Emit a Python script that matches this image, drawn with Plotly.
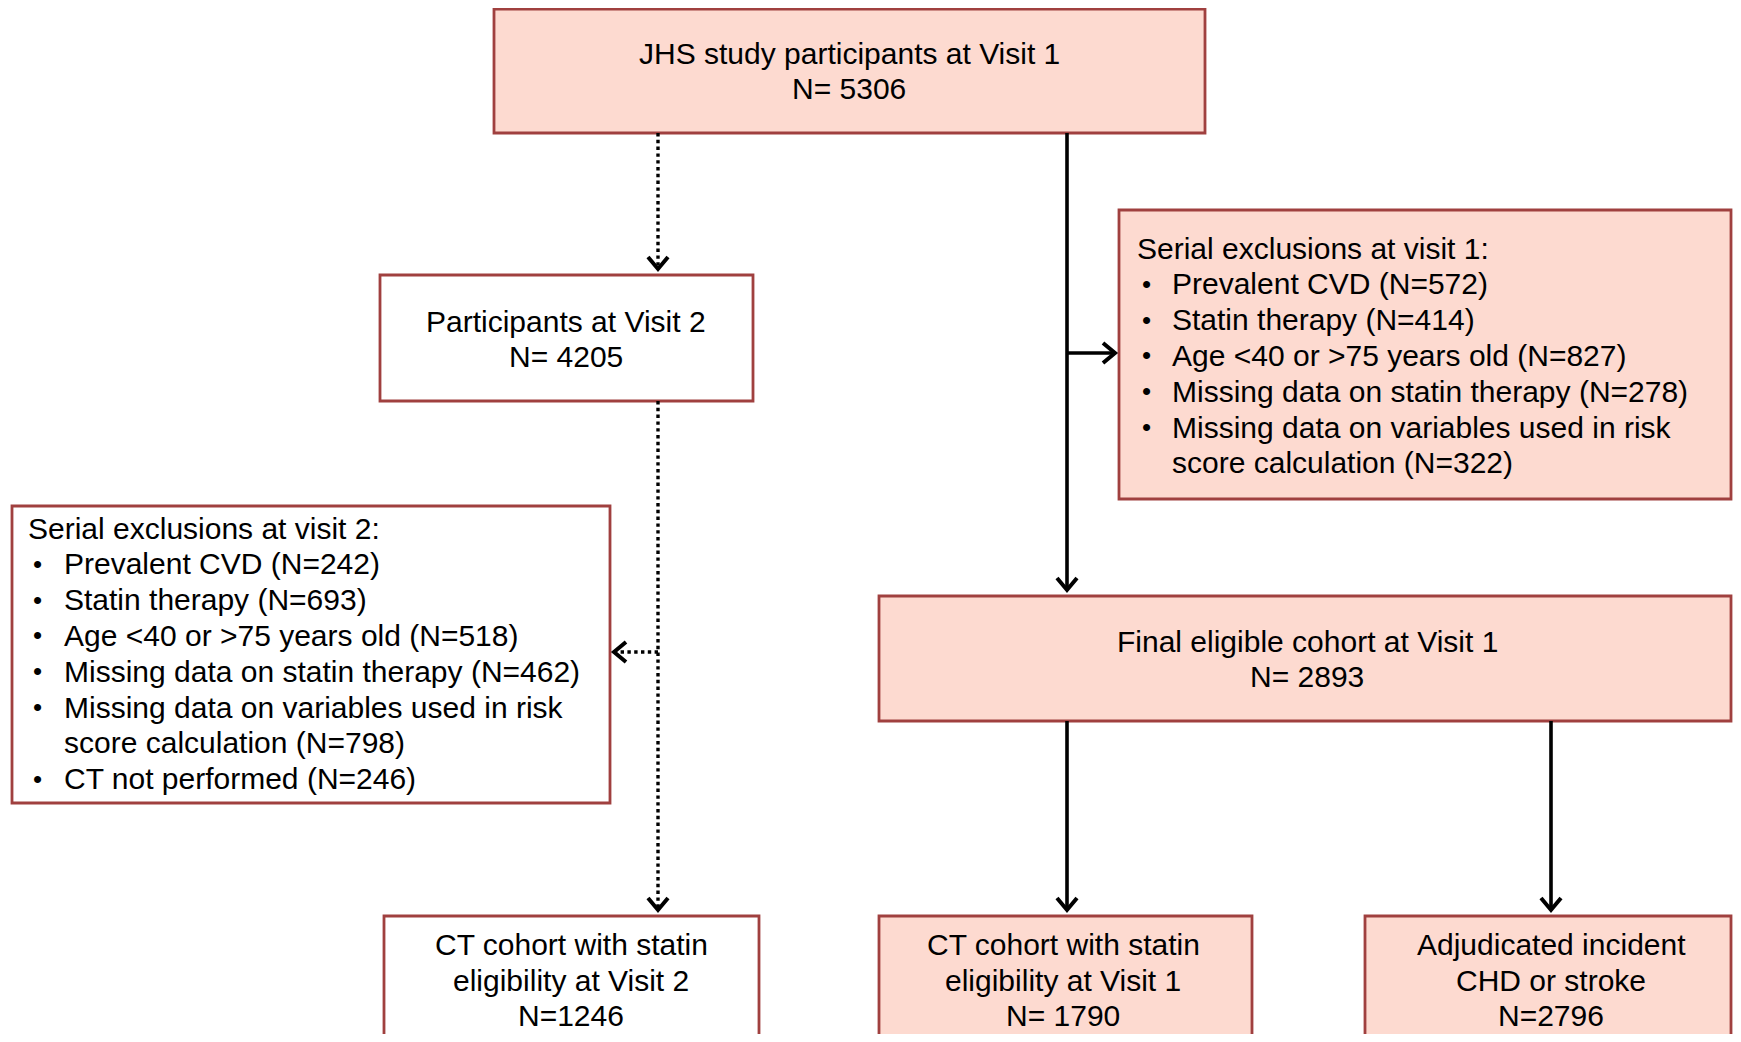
import plotly.graph_objects as go

# The page body adds an 8px margin, so the figure is offset by 8px inside the window.
OFF = 8
W, H = 1741, 1042
FONT = "Liberation Sans, Arial, sans-serif"
FS = 30
PINK = "#FDDAD0"
WHITE = "#FFFFFF"
BORDER = "#A0403F"

# ---- data -------------------------------------------------------------
node_keys = ["v1", "v2", "final", "ct2", "ct1", "events"]
node_titles = [
    "JHS study participants at Visit 1",
    "Participants at Visit 2",
    "Final eligible cohort at Visit 1",
    "CT cohort with statin|eligibility at Visit 2",
    "CT cohort with statin|eligibility at Visit 1",
    "Adjudicated incident|CHD or stroke",
]
node_counts = [5306, 4205, 2893, 1246, 1790, 2796]
node_count_fmt = ["N= {}", "N= {}", "N= {}", "N={}", "N= {}", "N={}"]

visit1_header = "Serial exclusions at visit 1:"
visit1_reasons = [
    "Prevalent CVD",
    "Statin therapy",
    "Age <40 or >75 years old",
    "Missing data on statin therapy",
    "Missing data on variables used in risk|score calculation",
]
visit1_counts = [572, 414, 827, 278, 322]

visit2_header = "Serial exclusions at visit 2:"
visit2_reasons = [
    "Prevalent CVD",
    "Statin therapy",
    "Age <40 or >75 years old",
    "Missing data on statin therapy",
    "Missing data on variables used in risk|score calculation",
    "CT not performed",
]
visit2_counts = [242, 693, 518, 462, 798, 246]

# ---- layout (pixel geometry in window coordinates) -------------------
RIGHT = 1731
boxes = {
    "v1": (494, 9, 1205, 133, PINK),
    "v2": (380, 275, 753, 401, WHITE),
    "excl1": (1119, 210, RIGHT, 499, PINK),
    "excl2": (12, 506, 610, 803, WHITE),
    "final": (879, 596, RIGHT, 721, PINK),
    "ct2": (384, 916, 759, 1060, WHITE),
    "ct1": (879, 916, 1252, 1060, PINK),
    "events": (1365, 916, RIGHT, 1060, PINK),
}
text_centers = {
    "v1": (849, 71),
    "v2": (566, 339),
    "final": (1307, 659),
    "ct2": (571, 980),
    "ct1": (1063, 980),
    "events": (1551, 980),
}
LINE = 35.8

fig = go.Figure()
shapes = []
annotations = []

for key, (x0, y0, x1, y1, fill) in boxes.items():
    shapes.append(dict(type="rect", xref="x", yref="y", x0=x0, y0=y0, x1=x1, y1=y1,
                       fillcolor=fill, line=dict(color=BORDER, width=2.8), layer="below"))


def text_line(x, y, s, anchor="center", size=FS):
    annotations.append(dict(x=x, y=y, xref="x", yref="y", showarrow=False, text=s,
                            xanchor=anchor, yanchor="middle",
                            font=dict(family=FONT, size=size, color="black")))


for key, title, n, fmt in zip(node_keys, node_titles, node_counts, node_count_fmt):
    cx, cy = text_centers[key]
    lines = title.split("|") + [fmt.format(n)]
    y0 = cy - LINE * (len(lines) - 1) / 2
    for i, s in enumerate(lines):
        text_line(cx, y0 + i * LINE, s)


def exclusion_list(header, reasons, counts, x_head, x_bullet, x_text, y_first):
    y = y_first
    text_line(x_head, y, header, "left")
    for reason, n in zip(reasons, counts):
        y += LINE
        parts = reason.split("|")
        parts[-1] = parts[-1] + " (N={})".format(n)
        text_line(x_bullet, y, "•", "left", FS - 4)
        for i, p in enumerate(parts):
            if i > 0:
                y += LINE
            text_line(x_text, y, p, "left")


exclusion_list(visit1_header, visit1_reasons, visit1_counts, 1135, 1140, 1170, 248)
exclusion_list(visit2_header, visit2_reasons, visit2_counts, 26, 31, 62, 528)

# ---- connectors -------------------------------------------------------
SOLID = dict(color="black", width=3.6)
DOT = dict(color="black", width=3.4, dash="dot")


def seg(x0, y0, x1, y1, style):
    shapes.append(dict(type="line", xref="x", yref="y", x0=x0, y0=y0, x1=x1, y1=y1, line=style))


def head(x, y, direction):
    a, b = 10, 12
    if direction == "down":
        path = f"M {x-a},{y-b} L {x},{y} L {x+a},{y-b}"
    elif direction == "right":
        path = f"M {x-b},{y-a} L {x},{y} L {x-b},{y+a}"
    else:
        path = f"M {x+b},{y-a} L {x},{y} L {x+b},{y+a}"
    shapes.append(dict(type="path", xref="x", yref="y", path=path,
                       line=dict(color="black", width=4)))


# dotted: visit1 -> visit2
seg(658, 133, 658, 266, DOT); head(658, 269, "down")
# dotted: visit2 -> ct2, and branch to exclusions 2
seg(658, 401, 658, 907, DOT); head(658, 910, "down")
seg(658, 652, 616, 652, DOT); head(614, 652, "left")
# solid: visit1 -> final, branch to exclusions 1
seg(1067, 133, 1067, 588, SOLID); head(1067, 590, "down")
seg(1067, 353, 1113, 353, SOLID); head(1115, 353, "right")
# solid: final -> ct1, events
seg(1067, 721, 1067, 908, SOLID); head(1067, 910, "down")
seg(1551, 721, 1551, 908, SOLID); head(1551, 910, "down")

# keep the page from overflowing the window (body margin is 8px on each side)
FIG_W = W - 2 * OFF
FIG_H = H - 2 * OFF

fig.update_layout(
    width=FIG_W, height=FIG_H,
    margin=dict(l=0, r=0, t=0, b=0),
    paper_bgcolor="white", plot_bgcolor="white",
    xaxis=dict(range=[OFF, OFF + FIG_W], visible=False, fixedrange=True),
    yaxis=dict(range=[OFF + FIG_H, OFF], visible=False, fixedrange=True),
    shapes=shapes, annotations=annotations, showlegend=False,
)

fig.write_html("out.html")
